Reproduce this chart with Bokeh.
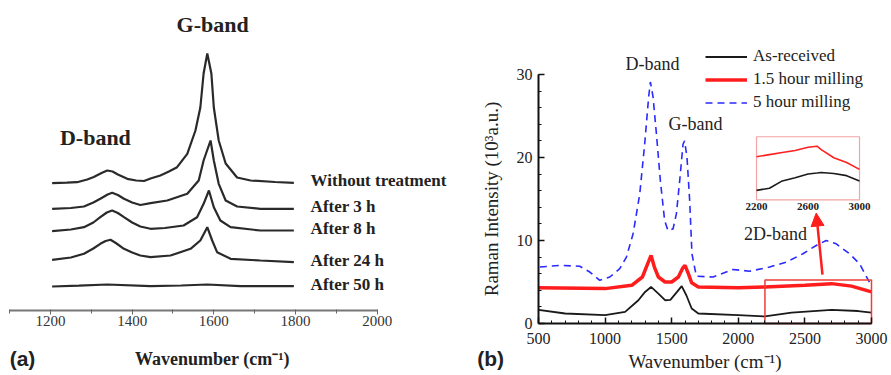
from bokeh.plotting import figure
from bokeh.layouts import row
from bokeh.models import (Range1d, Legend, LegendItem, Arrow, NormalHead, FixedTicker,
                          LinearAxis)
from bokeh.core.properties import value
from bokeh.embed import file_html
from bokeh.resources import INLINE

# ---------------- Panel (a): stacked Raman spectra (arbitrary units, offset) ----------------
A_WN_WITHOUT = [1204, 1240, 1265, 1290, 1306, 1325, 1339, 1352, 1365, 1388, 1410, 1429, 1445,
                1469, 1490, 1510, 1535, 1555, 1567, 1575, 1584, 1594, 1600, 1612, 1629, 1657,
                1690, 1750, 1796]
A_Y_WITHOUT = [127.3, 127.8, 128.3, 131, 133.5, 137.5, 140, 139, 136, 131.7, 130, 129.5, 132,
               135, 139, 143.3, 156.7, 180, 203, 237, 257, 237, 203, 170, 147, 133, 130, 128.5,
               127.7]
A_WN_3H = [1204, 1250, 1282, 1305, 1322, 1340, 1351, 1365, 1380, 1400, 1420, 1445, 1486, 1535,
           1563, 1575, 1592, 1600, 1612, 1629, 1657, 1714, 1796]
A_Y_3H = [101.7, 102.5, 104, 108, 111.7, 116, 117.7, 115.5, 111.7, 108, 105.5, 107.3, 110,
          116.7, 130, 150, 170, 150, 126.7, 110, 104, 101.7, 101.7]
A_WN_8H = [1204, 1250, 1282, 1305, 1322, 1338, 1351, 1365, 1380, 1400, 1420, 1445, 1480, 1526,
           1559, 1575, 1588, 1600, 1616, 1641, 1714, 1796]
A_Y_8H = [79.3, 81, 83.3, 88, 93.3, 98, 100, 97.5, 93.3, 88, 84, 81.7, 82.5, 85, 93.3, 106.7,
          120, 103.3, 90, 83.3, 80, 80]
A_WN_24H = [1204, 1250, 1282, 1305, 1322, 1335, 1347, 1360, 1380, 1400, 1420, 1445, 1494, 1543,
            1567, 1584, 1596, 1608, 1641, 1714, 1796]
A_Y_24H = [50.7, 53, 56.7, 62, 66.7, 69.5, 70.7, 67.5, 61.7, 58, 55, 53.3, 55, 61.7, 70, 83.3,
           70, 58.3, 51.7, 50, 48.3]
A_WN_50H = [1204, 1270, 1339, 1445, 1520, 1584, 1665, 1796]
A_Y_50H = [24, 24.8, 26, 24.3, 25, 26, 24.3, 24.3]
A_LABELS = ["Without treatment", "After 3 h", "After 8 h", "After 24 h", "After 50 h"]
A_TICKS = [1200, 1400, 1600, 1800, 2000]
A_MINOR = [1100, 1300, 1500, 1700, 1900]

# ---------------- Panel (b): Raman intensity (10^3 a.u.) ----------------
B_WN_AS = [500, 700, 1000, 1150, 1250, 1300, 1345, 1400, 1450, 1490, 1540, 1575, 1610, 1650,
           1700, 2000, 2200, 2400, 2700, 2900, 3000]
B_Y_AS = [1.65, 1.2, 1.0, 1.4, 2.8, 3.8, 4.4, 3.6, 2.8, 2.85, 3.8, 4.5, 3.4, 1.8, 1.2, 1.0,
          0.85, 1.3, 1.65, 1.5, 1.3]
B_WN_15 = [500, 1000, 1200, 1280, 1320, 1345, 1370, 1400, 1450, 1500, 1550, 1580, 1600, 1625,
           1650, 1700, 2000, 2200, 2500, 2700, 2850, 3000]
B_Y_15 = [4.3, 4.2, 4.6, 5.6, 7.2, 8.2, 6.8, 5.6, 5.0, 5.0, 5.6, 6.6, 7.0, 6.0, 4.9, 4.4, 4.3,
          4.4, 4.6, 4.8, 4.5, 3.8]
B_WN_5 = [510, 660, 810, 885, 960, 1035, 1110, 1160, 1210, 1260, 1297, 1327, 1340, 1360, 1385,
          1415, 1447, 1472, 1510, 1535, 1560, 1585, 1597, 1615, 1635, 1652, 1685, 1810, 1960,
          2085, 2235, 2360, 2485, 2585, 2660, 2735, 2835, 2910, 2970, 2990]
B_Y_5 = [6.8, 7.0, 6.9, 6.2, 5.2, 5.6, 6.6, 8.0, 10.8, 15.6, 21.6, 27.3, 29.1, 27.3, 22.9, 17.2,
         12.4, 11.2, 11.4, 13.2, 17.2, 21.6, 22.0, 20.0, 14.8, 8.4, 5.7, 5.6, 6.5, 6.3, 6.8, 7.4,
         8.4, 9.4, 10.0, 9.6, 8.4, 7.2, 5.4, 4.8]
B_LABELS = ["As-received", "1.5 hour milling", "5 hour milling"]
B_TICKS_X = [500, 1000, 1500, 2000, 2500, 3000]
B_TICKS_Y = [0, 10, 20, 30]

# inset (2D-band region, magnified)
INSET_WN = [2200, 2300, 2400, 2500, 2600, 2670, 2700, 2800, 2900, 3000]
INSET_RED = [4.1, 4.3, 4.5, 4.7, 5.0, 5.1, 4.8, 4.0, 3.55, 2.9]
INSET_BLACK = [0.9, 1.1, 1.8, 2.1, 2.45, 2.55, 2.6, 2.5, 2.3, 1.8]
INSET_TICKS = [2200, 2600, 3000]

SERIF = "Liberation Serif"
TITLE_A = "Wavenumber (cm\u207b\u00b9)"

# ================= Panel (a) =================
pa = figure(width=450, height=375, x_range=Range1d(1077.6, 2179.6), y_range=Range1d(-65, 310),
            output_backend="svg", toolbar_location=None, y_axis_location=None,
            min_border_left=0, min_border_right=0, min_border_top=0, min_border_bottom=0)
pa.outline_line_color = None
pa.xgrid.visible = False
pa.ygrid.visible = False

a_series = [(A_WN_WITHOUT, A_Y_WITHOUT), (A_WN_3H, A_Y_3H), (A_WN_8H, A_Y_8H),
            (A_WN_24H, A_Y_24H), (A_WN_50H, A_Y_50H)]
for (wn, yv) in a_series:
    pa.line(wn, yv, line_color="#2a2a2a", line_width=2.2)

pa.text(x=[wn[-1] + 41 for wn, _ in a_series], y=[yv[-1] for _, yv in a_series], text=A_LABELS,
        text_font=value(SERIF), text_font_style="bold", text_font_size=value("17px"),
        text_color="#222222", text_baseline="middle", text_align="left", y_offset=-2)
pa.text(x=[1597], y=[286], text=["G-band"], text_font=value(SERIF), text_font_style="bold",
        text_font_size=value("22px"), text_color="#222222", text_align="center",
        text_baseline="middle")
pa.text(x=[1310], y=[173], text=["D-band"], text_font=value(SERIF), text_font_style="bold",
        text_font_size=value("22px"), text_color="#222222", text_align="center",
        text_baseline="middle")
pa.text(x=[1100], y=[-48], text=["(a)"], text_font=value("Liberation Sans"),
        text_font_style="bold", text_font_size=value("21px"), text_color="#222222",
        text_align="left", text_baseline="middle")

xa = pa.xaxis[0]
xa.fixed_location = 0
xa.bounds = (1100, 2000)
xa.ticker = FixedTicker(ticks=A_TICKS, minor_ticks=A_MINOR)
xa.axis_line_color = "#777777"
xa.axis_line_width = 2
xa.major_tick_line_color = "#666666"
xa.minor_tick_line_color = "#666666"
xa.major_tick_out = 4
xa.major_tick_in = 1
xa.minor_tick_out = 3
xa.minor_tick_in = 1
xa.major_label_standoff = 1
xa.major_label_text_font = SERIF
xa.major_label_text_font_size = "15px"
xa.major_label_text_color = "#333333"

# axis title of panel (a): centred under the spectra, as in the original figure
title_axis = LinearAxis(fixed_location=0, bounds=(1193, 2000), ticker=FixedTicker(ticks=[]),
                        axis_line_color=None, major_tick_line_color=None,
                        minor_tick_line_color=None, major_tick_out=0, minor_tick_out=0,
                        major_tick_in=0, minor_tick_in=0, major_label_standoff=0,
                        axis_label=TITLE_A, axis_label_text_font=SERIF,
                        axis_label_text_font_style="bold", axis_label_text_font_size="18px",
                        axis_label_text_color="#222222", axis_label_standoff=38)
pa.add_layout(title_axis, "below")

# ================= Panel (b) =================
X0, X1, Y0, Y1 = -160.7, 3150.2, -6.27, 38.92
pb = figure(width=441, height=375, x_range=Range1d(X0, X1), y_range=Range1d(Y0, Y1),
            output_backend="svg", toolbar_location=None,
            min_border_left=0, min_border_right=0, min_border_top=0, min_border_bottom=0)
pb.outline_line_color = None
pb.xgrid.visible = False
pb.ygrid.visible = False

# inset placement (in main data units) and inset data window
BOX_X0, BOX_X1, BOX_Y0, BOX_Y1 = 2137, 2910, 14.9, 22.5
IN_X0, IN_X1, IN_Y0, IN_Y1 = 2200, 3000, 0.0, 6.0
sx = (BOX_X1 - BOX_X0) / (IN_X1 - IN_X0)
sy = (BOX_Y1 - BOX_Y0) / (IN_Y1 - IN_Y0)
pb.extra_x_ranges = {"inset": Range1d(IN_X0 - (BOX_X0 - X0) / sx, IN_X0 + (X1 - BOX_X0) / sx)}
pb.extra_y_ranges = {"inset": Range1d(IN_Y0 - (BOX_Y0 - Y0) / sy, IN_Y0 + (Y1 - BOX_Y0) / sy)}

r_as = pb.line(B_WN_AS, B_Y_AS, line_color="#1a1a1a", line_width=1.8)
r_15 = pb.line(B_WN_15, B_Y_15, line_color="#ff1c1c", line_width=3.5)
r_5 = pb.line(B_WN_5, B_Y_5, line_color="#2a2aff", line_width=1.6, line_dash="7 5")

# zoom box on the 2D-band region
pb.quad(left=[2200], right=[3000], bottom=[0], top=[5.25], fill_alpha=0,
        line_color="#f03c3c", line_width=1.5)
# inset
pb.quad(left=[IN_X0], right=[IN_X1], bottom=[IN_Y0], top=[IN_Y1], fill_color="white",
        fill_alpha=0, line_color="#f4a4a4", line_width=1.2,
        x_range_name="inset", y_range_name="inset")
pb.line(INSET_WN, INSET_RED, line_color="#ff2020", line_width=1.6,
        x_range_name="inset", y_range_name="inset")
pb.line(INSET_WN, INSET_BLACK, line_color="#1a1a1a", line_width=1.6,
        x_range_name="inset", y_range_name="inset")
pb.text(x=INSET_TICKS, y=[IN_Y0] * len(INSET_TICKS), text=[str(t) for t in INSET_TICKS],
        x_range_name="inset", y_range_name="inset", text_font=value(SERIF),
        text_font_style="bold", text_font_size=value("11px"), text_color="#222222",
        text_align="center", text_baseline="top", y_offset=3)

pb.add_layout(Arrow(x_start=2632, y_start=5.9, x_end=2585, y_end=13.3,
                    line_color="#ff1c1c", line_width=2.5,
                    end=NormalHead(size=13, fill_color="#ff1c1c", line_color="#ff1c1c")))

for txt, xx, yy in [("D-band", 1356, 31.3), ("G-band", 1679, 24.0), ("2D-band", 2279, 10.8)]:
    pb.text(x=[xx], y=[yy], text=[txt], text_font=value(SERIF), text_font_size=value("18px"),
            text_color="#222222", text_align="center", text_baseline="middle")
pb.text(x=[140], y=[-4.2], text=["(b)"], text_font=value("Liberation Sans"),
        text_font_style="bold", text_font_size=value("21px"), text_color="#222222",
        text_align="center", text_baseline="middle")

legend = Legend(items=[LegendItem(label=B_LABELS[0], renderers=[r_as]),
                       LegendItem(label=B_LABELS[1], renderers=[r_15]),
                       LegendItem(label=B_LABELS[2], renderers=[r_5])],
                location=(255, 263), border_line_color=None, background_fill_alpha=0,
                padding=0, margin=0, spacing=3, glyph_width=42, glyph_height=17,
                label_height=17, label_standoff=6, label_text_font=SERIF,
                label_text_font_size="17px", label_text_color="#222222")
pb.add_layout(legend)

xb = pb.xaxis[0]
xb.fixed_location = 0
xb.bounds = (500, 3000)
xb.ticker = FixedTicker(ticks=B_TICKS_X, minor_ticks=list(range(500, 3001, 100)))
yb = pb.yaxis[0]
yb.fixed_location = 500
yb.ticker = FixedTicker(ticks=B_TICKS_Y, minor_ticks=list(range(0, 31, 2)))
yb.bounds = (0, 30)
for ax in (xb, yb):
    ax.axis_line_color = "#111111"
    ax.axis_line_width = 2
    ax.major_tick_in = 6
    ax.major_tick_out = 0
    ax.minor_tick_in = 3
    ax.minor_tick_out = 0
    ax.major_tick_line_color = "#111111"
    ax.minor_tick_line_color = "#111111"
    ax.major_tick_line_width = 1.5
    ax.major_label_text_font = SERIF
    ax.major_label_text_font_size = "16px"
    ax.major_label_text_color = "#222222"
    ax.axis_label_text_font = SERIF
    ax.axis_label_text_font_style = "normal"
    ax.axis_label_text_font_size = "19px"
    ax.axis_label_text_color = "#222222"
xb.major_label_standoff = 10
xb.axis_label_standoff = 3
xb.axis_label = "Wavenumber (cm\u207b\u00b9)"
yb.major_label_standoff = 6
yb.axis_label_standoff = 12
yb.axis_label = "Raman Intensity (10\u00b3a.u.)"

layout = row(pa, pb)
open("out.html", "w").write(file_html(layout, INLINE))
